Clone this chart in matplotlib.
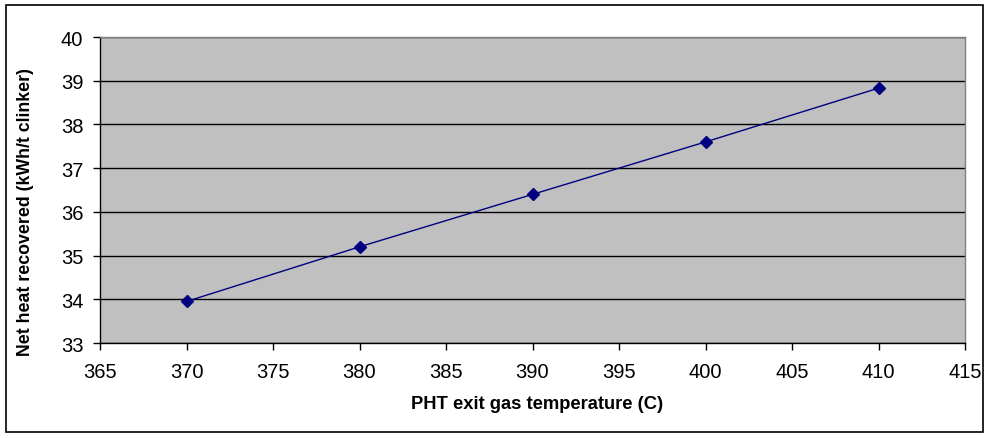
import matplotlib
matplotlib.use("Agg")
import matplotlib.pyplot as plt
from matplotlib.patches import Rectangle

# data
temps = [370, 380, 390, 400, 410]
heat = [33.95, 35.2, 36.4, 37.6, 38.83]
x_ticks = [365, 370, 375, 380, 385, 390, 395, 400, 405, 410, 415]
y_ticks = [33, 34, 35, 36, 37, 38, 39, 40]

plt.rcParams['font.family'] = ['Liberation Sans', 'DejaVu Sans']

W, H = 986, 439
fig = plt.figure(figsize=(W / 100, H / 100), dpi=100)
fig.patch.set_facecolor('white')

# outer chart border
fig.patches.append(Rectangle((6 / W, 6 / H), (983 - 6) / W, (433 - 6) / H,
                             transform=fig.transFigure, fill=False,
                             edgecolor='black', linewidth=1.2))

left, right, top, bottom = 100, 965, 38, 344
ax = fig.add_axes([left / W, 1 - bottom / H, (right - left) / W, (bottom - top) / H])
ax.set_facecolor('#c0c0c0')

ax.plot(temps, heat, color='#000080', linewidth=1, marker='D', markersize=6,
        markerfacecolor='#000080', markeredgecolor='#000080', zorder=3)

ax.set_xlim(365, 415)
ax.set_ylim(33, 40)
ax.set_xticks(x_ticks)
ax.set_yticks(y_ticks)
ax.yaxis.grid(True, color='black', linewidth=1)
ax.set_axisbelow(True)

for side in ['left', 'bottom']:
    ax.spines[side].set_color('black')
    ax.spines[side].set_linewidth(1)
for side in ['top', 'right']:
    ax.spines[side].set_color('#808080')
    ax.spines[side].set_linewidth(1)

ax.tick_params(axis='both', direction='out', length=5, width=1, labelsize=14.5, color='black')
ax.tick_params(axis='x', pad=9)
ax.tick_params(axis='y', pad=7)

ax.set_xlabel('PHT exit gas temperature (C)', fontsize=13.2, fontweight='bold')
ax.xaxis.set_label_coords((537 - left) / (right - left), -(405 - bottom) / (bottom - top))
ax.xaxis.label.set_va('center')
ax.set_ylabel('Net heat recovered (kWh/t clinker)', fontsize=12.8, fontweight='bold')
ax.yaxis.set_label_coords(-(left - 26) / (right - left), (bottom - 212) / (bottom - top))
ax.yaxis.label.set_va('center')

fig.savefig('out.png', dpi=100)
